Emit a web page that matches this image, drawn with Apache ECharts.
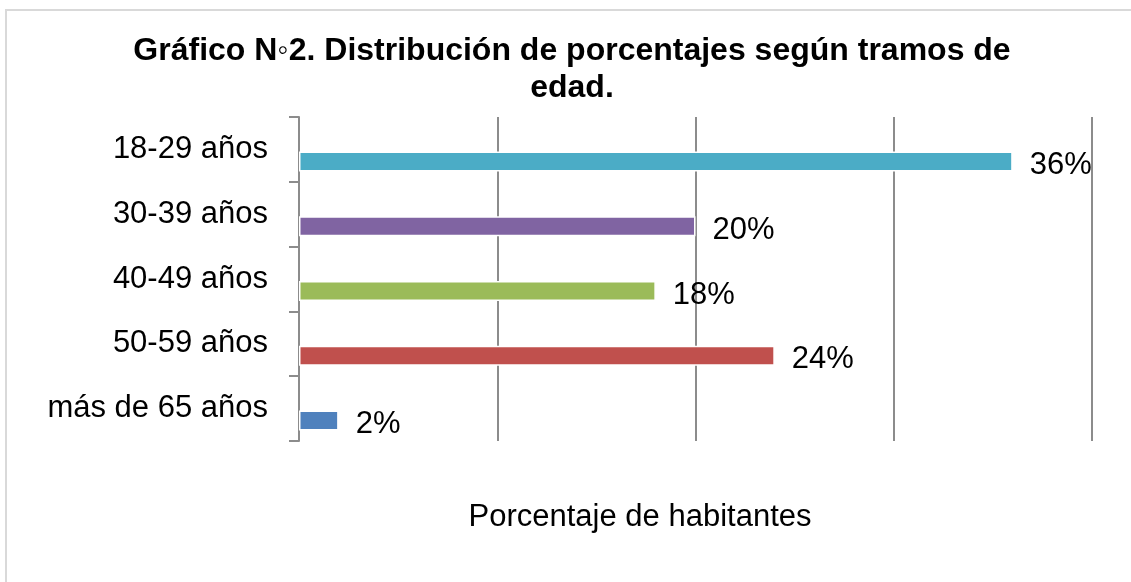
<!DOCTYPE html>
<html>
<head>
<meta charset="utf-8">
<script src="https://cdn.jsdelivr.net/npm/echarts@6/dist/echarts.min.js"></script>
<style>html,body{margin:0;padding:0;background:#fff;}#c{width:1131px;height:582px;}</style>
</head>
<body>
<div id="c"></div>
<script>
const categories = ['18-29 años', '30-39 años', '40-49 años', '50-59 años', 'más de 65 años'];
const values = [36, 20, 18, 24, 2];
const colors = ['#4BACC6', '#8064A2', '#9BBB59', '#C0504D', '#4F81BD'];
const titleLines = ['Gráfico N◦2. Distribución de porcentajes según tramos de', 'edad.'];
const axisTitle = 'Porcentaje de habitantes';

const FONT = "'Liberation Sans', Arial, sans-serif";
const chart = echarts.init(document.getElementById('c'));
chart.setOption({
  backgroundColor: '#fff',
  animation: false,
  graphic: [
    { type: 'rect', shape: { x: 6, y: 10, width: 1300, height: 800 }, style: { fill: 'none', stroke: '#d9d9d9', lineWidth: 2 }, silent: true },
    { type: 'text', x: 572, y: 33, style: { text: titleLines.join('\n'), textAlign: 'center', textVerticalAlign: 'top', font: "bold 32px " + FONT, lineHeight: 37, fill: '#000' } },
    { type: 'text', x: 640, y: 517, style: { text: axisTitle, textAlign: 'center', textVerticalAlign: 'middle', font: "31px " + FONT, fill: '#000' } }
  ],
  grid: { left: 299, right: 39, top: 117, bottom: 141, containLabel: false },
  xAxis: {
    type: 'value', min: 0, max: 40, interval: 10,
    axisLine: { show: false }, axisTick: { show: false }, axisLabel: { show: false },
    splitLine: { show: true, lineStyle: { color: '#8c8c8c', width: 2 } }
  },
  yAxis: {
    type: 'category', data: categories, inverse: true,
    axisLine: { show: true, lineStyle: { color: '#8c8c8c', width: 2 } },
    axisTick: { show: true, length: 10, lineStyle: { color: '#8c8c8c', width: 2 } },
    axisLabel: { margin: 31, fontSize: 31, fontFamily: FONT, color: '#000', padding: [5, 0, 0, 0] }
  },
  series: [
    {
      type: 'bar', name: 'pad', data: categories.map(() => '-'), barWidth: 20, barGap: '20%', silent: true
    },
    {
      type: 'bar', name: 'valor', barWidth: 20, barGap: '20%',
      data: values.map((v, i) => ({ value: v, itemStyle: { color: colors[i] } })),
      itemStyle: { borderColor: '#fff', borderWidth: 1.5 },
      label: { show: true, position: 'right', distance: 17, offset: [0, 4], formatter: p => p.value + '%', fontSize: 31, fontFamily: FONT, color: '#000' }
    }
  ]
});
</script>
</body>
</html>
